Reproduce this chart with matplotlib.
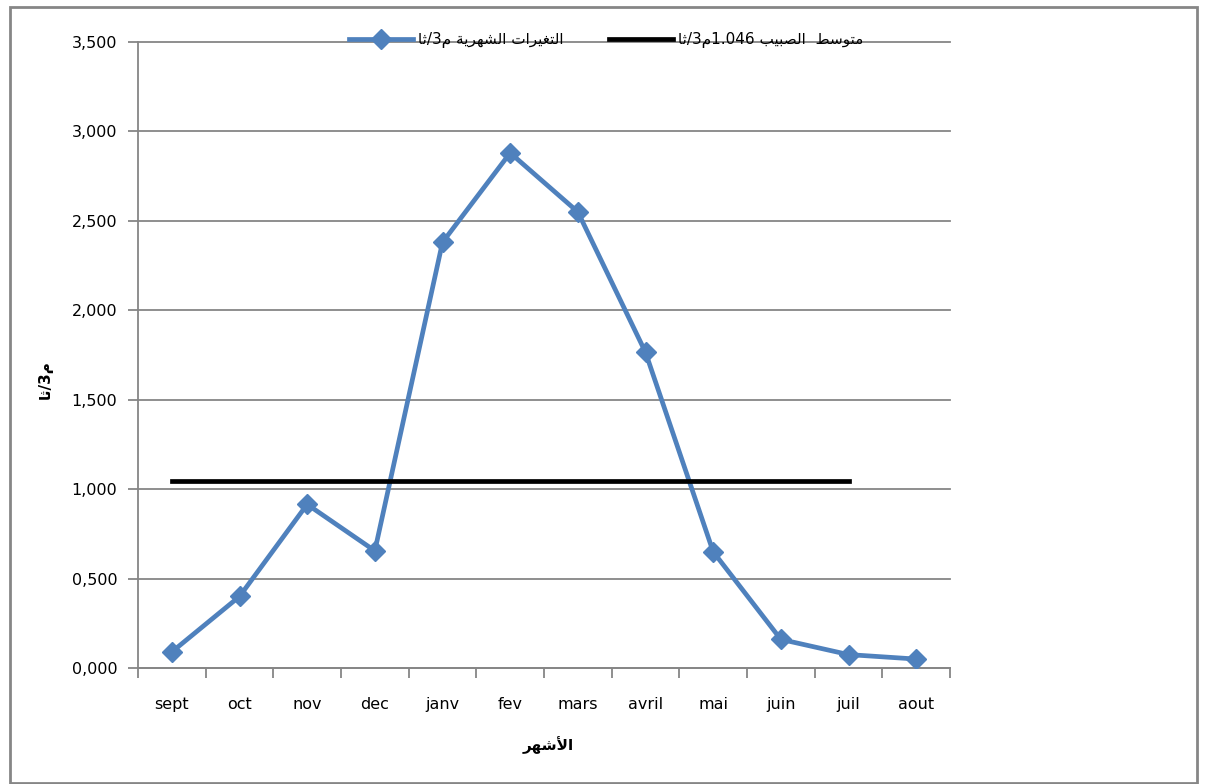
import matplotlib
matplotlib.use("Agg")
import matplotlib.pyplot as plt
from matplotlib.patches import Rectangle
from matplotlib.ticker import FuncFormatter

# monthly discharge (m3/s), hydrological year sept -> aout
months = ["sept", "oct", "nov", "dec", "janv", "fev", "mars", "avril", "mai", "juin", "juil", "aout"]
debit = [0.090, 0.400, 0.915, 0.655, 2.380, 2.880, 2.550, 1.765, 0.650, 0.160, 0.075, 0.050]
debit_moyen = 1.046
n_moyen = 11  # mean line drawn from sept to juil

label_serie = "التغيرات الشهرية م3/ثا"
label_moyen = "متوسط  الصبيب 1.046م3/ثا"
label_x = "الأشهر"
label_y = "م3/ثا"

# --- minimal arabic shaping (presentation forms) + rtl ordering ---
# letter: (isolated, final, initial, medial); 2-tuple => joins on the right only
FORMS = {
    "ا": (0xFE8D, 0xFE8E), "أ": (0xFE83, 0xFE84), "ة": (0xFE93, 0xFE94),
    "ر": (0xFEAD, 0xFEAE), "و": (0xFEED, 0xFEEE),
    "ب": (0xFE8F, 0xFE90, 0xFE91, 0xFE92), "ت": (0xFE95, 0xFE96, 0xFE97, 0xFE98),
    "ث": (0xFE99, 0xFE9A, 0xFE9B, 0xFE9C), "س": (0xFEB1, 0xFEB2, 0xFEB3, 0xFEB4),
    "ش": (0xFEB5, 0xFEB6, 0xFEB7, 0xFEB8), "ص": (0xFEB9, 0xFEBA, 0xFEBB, 0xFEBC),
    "ط": (0xFEC1, 0xFEC2, 0xFEC3, 0xFEC4), "غ": (0xFECD, 0xFECE, 0xFECF, 0xFED0),
    "ل": (0xFEDD, 0xFEDE, 0xFEDF, 0xFEE0), "م": (0xFEE1, 0xFEE2, 0xFEE3, 0xFEE4),
    "ه": (0xFEE9, 0xFEEA, 0xFEEB, 0xFEEC), "ي": (0xFEF1, 0xFEF2, 0xFEF3, 0xFEF4),
}


def shape(text):
    # merge lam + alef-hamza into a single pseudo-letter
    chars = []
    i = 0
    while i < len(text):
        if text[i] == "ل" and i + 1 < len(text) and text[i + 1] == "أ":
            chars.append("لأ")
            i += 2
        else:
            chars.append(text[i])
            i += 1
    forms = dict(FORMS)
    forms["لأ"] = (0xFEF7, 0xFEF8)
    out = []
    for k, c in enumerate(chars):
        if c not in forms:
            out.append(c)
            continue
        prev = chars[k - 1] if k > 0 else None
        nxt = chars[k + 1] if k + 1 < len(chars) else None
        jp = prev in forms and len(forms[prev]) == 4
        jn = nxt in forms and len(forms[c]) == 4
        f = forms[c]
        if jp and jn:
            out.append(chr(f[3]))
        elif jp:
            out.append(chr(f[1]))
        elif jn:
            out.append(chr(f[2]))
        else:
            out.append(chr(f[0]))
    return out


def ar(text):
    glyphs = shape(text)
    # group into runs: latin/digit runs keep their order, everything else is rtl
    runs = []
    for g in glyphs:
        ltr = g.isascii() and (g.isalnum() or g == ".")
        if runs and runs[-1][0] == ltr:
            runs[-1][1].append(g)
        else:
            runs.append([ltr, [g]])
    res = ""
    for ltr, gs in reversed(runs):
        res += "".join(gs) if ltr else "".join(reversed(gs))
    return res


plt.rcParams["font.family"] = ["DejaVu Sans"]
grey = "#868686"

fig = plt.figure(figsize=(12.05, 7.84), dpi=100)
ax = fig.add_axes([138 / 1205, 1 - 668 / 784, 812 / 1205, 626 / 784])

x = list(range(len(months)))
ax.plot(x, debit, color="#4F81BD", lw=3.4, marker="D", ms=10.5,
        label=ar(label_serie), zorder=3)
ax.plot(x[:n_moyen], [debit_moyen] * n_moyen, color="black", lw=3.4,
        label=ar(label_moyen), zorder=3)

ax.set_xlim(-0.5, len(months) - 0.5)
ax.set_ylim(0, 3.5)
ax.set_yticks([0.5 * i for i in range(8)])
ax.yaxis.set_major_formatter(FuncFormatter(lambda v, p: f"{v:.3f}".replace(".", ",")))
ax.set_xticks(x)
ax.set_xticklabels(months)
ax.set_xticks([i - 0.5 for i in range(len(months) + 1)], minor=True)
ax.tick_params(axis="x", which="major", length=0, pad=21, labelsize=11.5)
ax.tick_params(axis="x", which="minor", length=7, width=1.3, color=grey)
ax.tick_params(axis="y", length=7, width=1.3, color=grey, labelsize=11.5, pad=8)

ax.grid(axis="y", color=grey, lw=1.3)
for gl in ax.get_ygridlines():
    gl.set_clip_on(False)
ax.set_axisbelow(True)
for s in ["top", "right"]:
    ax.spines[s].set_visible(False)
for s in ["left", "bottom"]:
    ax.spines[s].set_color(grey)
    ax.spines[s].set_linewidth(1.3)

ax.legend(ncol=2, loc="center", bbox_to_anchor=(606 / 1205, 1 - 40 / 784),
          bbox_transform=fig.transFigure, frameon=False, fontsize=11,
          handlelength=4.2, columnspacing=3.0, handletextpad=0.3)

fig.text(548 / 1205, 1 - 745 / 784, ar(label_x), fontsize=11, fontweight="bold",
         ha="center", va="center")
fig.text(45 / 1205, 1 - 380 / 784, ar(label_y), fontsize=11, fontweight="bold",
         rotation=90, ha="center", va="center")

fig.patches.append(Rectangle((10 / 1205, 1 / 784), 1187 / 1205, 776 / 784,
                             transform=fig.transFigure, fill=False,
                             edgecolor=grey, lw=2))

fig.savefig("out.png", dpi=100)
